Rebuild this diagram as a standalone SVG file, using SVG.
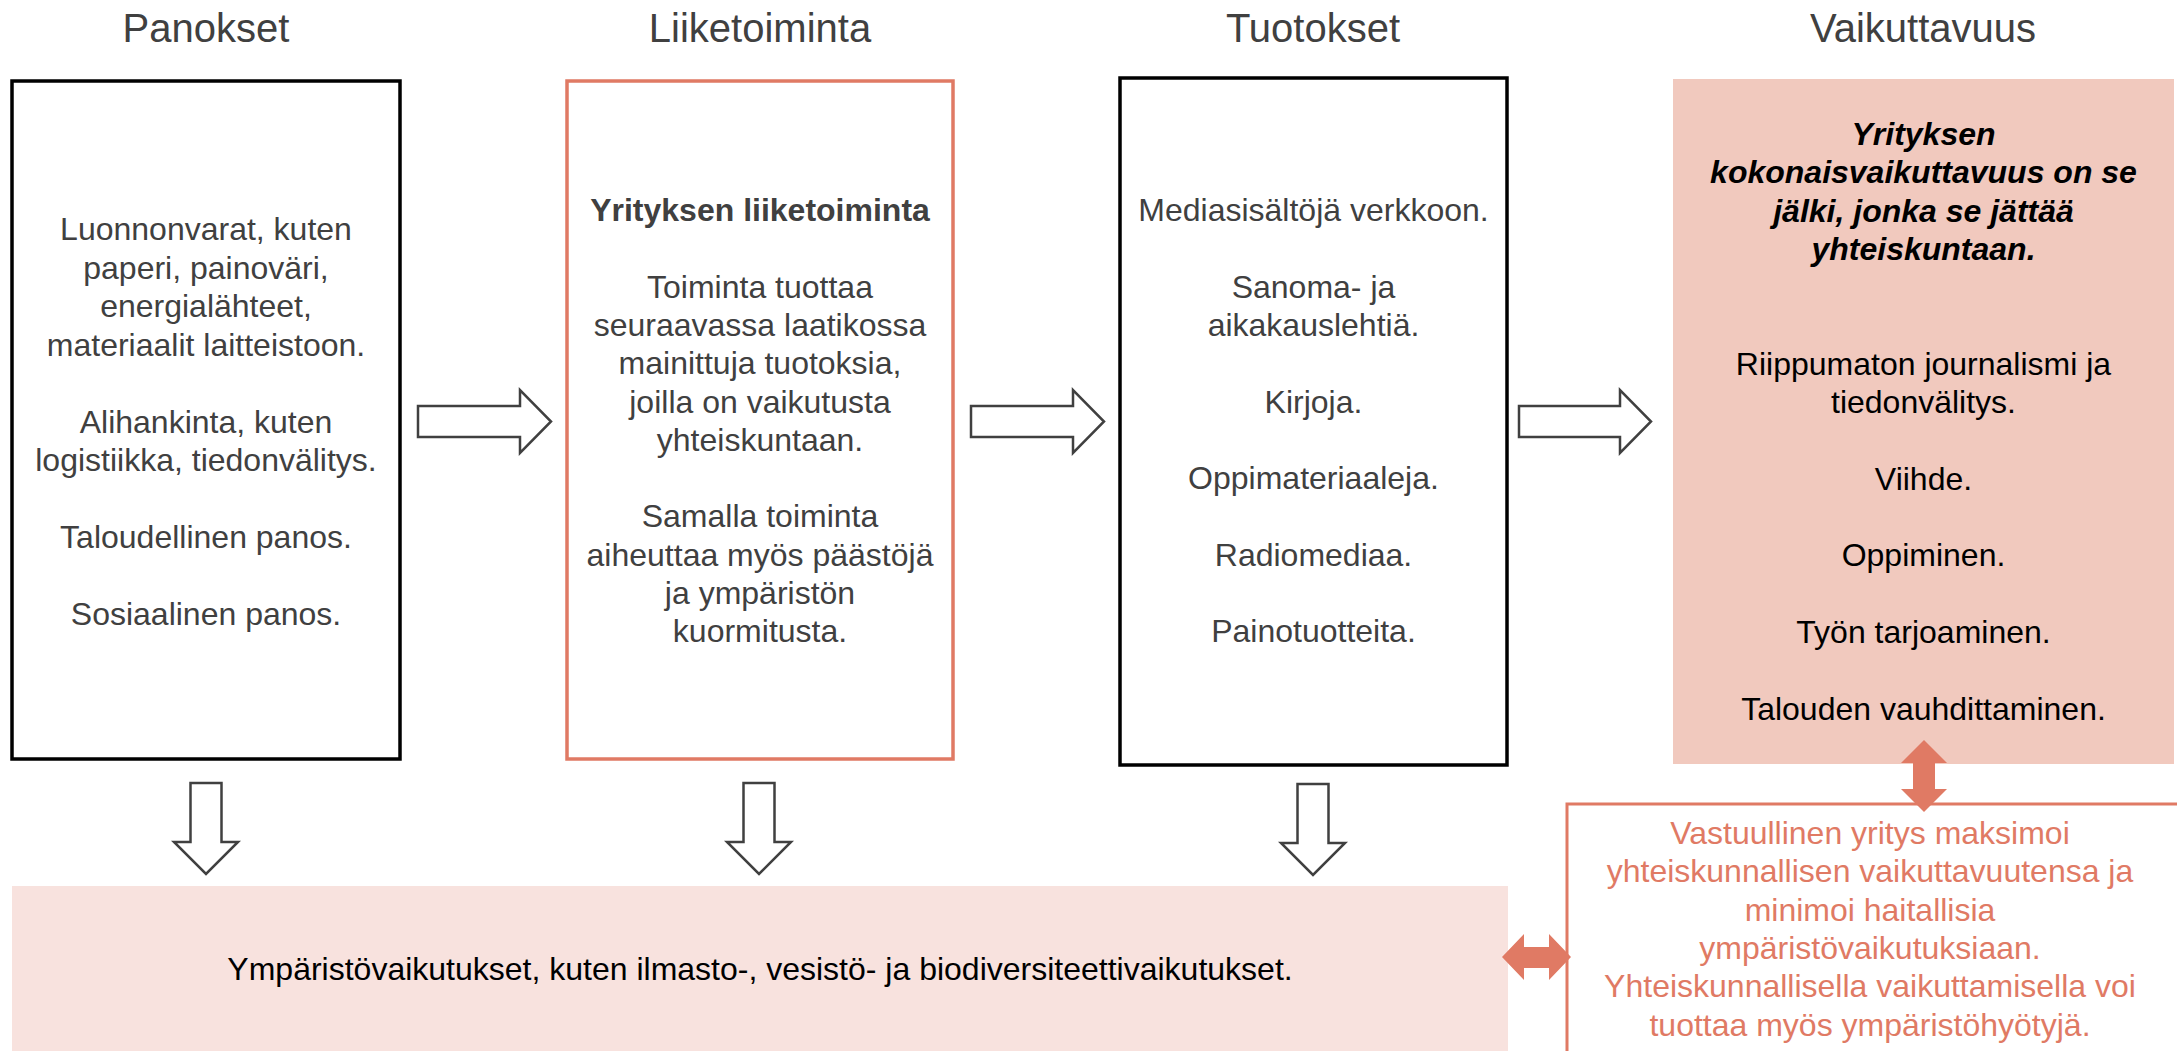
<svg xmlns="http://www.w3.org/2000/svg" width="2177" height="1051" viewBox="0 0 2177 1051">
<style>
text{font-family:"Liberation Sans",Arial,sans-serif;text-anchor:middle}
.title{font-size:40px;fill:#404040}
.t{font-size:32px;fill:#404040}
.tb{font-size:32px;fill:#000}
.to{font-size:32px;fill:#E07A64}
.bold{font-weight:bold}
.bi{font-weight:bold;font-style:italic}
.blk{fill:#fff;stroke:#000;stroke-width:3.5}
.org{fill:#fff;stroke:#E07A64;stroke-width:3.5}
.arr{fill:#fff;stroke:#404040;stroke-width:2.5;stroke-linejoin:miter}
.darr{fill:#E07A64;stroke:none}
</style>
<rect width="2177" height="1051" fill="#fff"/>

<g id="title-panokset"><text class="title" x="206" y="42">Panokset</text></g>
<g id="title-liiketoiminta"><text class="title" x="760" y="42">Liiketoiminta</text></g>
<g id="title-tuotokset"><text class="title" x="1313" y="42">Tuotokset</text></g>
<g id="title-vaikuttavuus"><text class="title" x="1923" y="42">Vaikuttavuus</text></g>

<g id="node-panokset">
<rect class="blk" x="12" y="81" width="388" height="678"/>
<text class="t" x="206" y="240">Luonnonvarat, kuten</text>
<text class="t" x="206" y="278.5">paperi, painoväri,</text>
<text class="t" x="206" y="317">energialähteet,</text>
<text class="t" x="206" y="355.5">materiaalit laitteistoon.</text>
<text class="t" x="206" y="432.5">Alihankinta, kuten</text>
<text class="t" x="206" y="471">logistiikka, tiedonvälitys.</text>
<text class="t" x="206" y="548">Taloudellinen panos.</text>
<text class="t" x="206" y="625">Sosiaalinen panos.</text>
</g>

<g id="node-liiketoiminta">
<rect class="org" x="567" y="81" width="386" height="678"/>
<text class="t bold" x="760" y="221">Yrityksen liiketoiminta</text>
<text class="t" x="760" y="297.6">Toiminta tuottaa</text>
<text class="t" x="760" y="335.9">seuraavassa laatikossa</text>
<text class="t" x="760" y="374.2">mainittuja tuotoksia,</text>
<text class="t" x="760" y="412.5">joilla on vaikutusta</text>
<text class="t" x="760" y="450.8">yhteiskuntaan.</text>
<text class="t" x="760" y="527.4">Samalla toiminta</text>
<text class="t" x="760" y="565.7">aiheuttaa myös päästöjä</text>
<text class="t" x="760" y="604">ja ympäristön</text>
<text class="t" x="760" y="642.3">kuormitusta.</text>
</g>

<g id="node-tuotokset">
<rect class="blk" x="1120" y="78" width="387" height="687"/>
<text class="t" x="1313.5" y="221">Mediasisältöjä verkkoon.</text>
<text class="t" x="1313.5" y="297.6">Sanoma- ja</text>
<text class="t" x="1313.5" y="335.9">aikakauslehtiä.</text>
<text class="t" x="1313.5" y="412.5">Kirjoja.</text>
<text class="t" x="1313.5" y="489.1">Oppimateriaaleja.</text>
<text class="t" x="1313.5" y="565.7">Radiomediaa.</text>
<text class="t" x="1313.5" y="642.3">Painotuotteita.</text>
</g>

<g id="node-vaikuttavuus">
<rect x="1673" y="79" width="501" height="685" fill="#F1C9BE"/>
<text class="tb bi" x="1923.5" y="145">Yrityksen</text>
<text class="tb bi" x="1923.5" y="183.3">kokonaisvaikuttavuus on se</text>
<text class="tb bi" x="1923.5" y="221.6">jälki, jonka se jättää</text>
<text class="tb bi" x="1923.5" y="259.9">yhteiskuntaan.</text>
<text class="tb" x="1923.5" y="374.8">Riippumaton journalismi ja</text>
<text class="tb" x="1923.5" y="413.1">tiedonvälitys.</text>
<text class="tb" x="1923.5" y="489.7">Viihde.</text>
<text class="tb" x="1923.5" y="566.3">Oppiminen.</text>
<text class="tb" x="1923.5" y="642.9">Työn tarjoaminen.</text>
<text class="tb" x="1923.5" y="719.5">Talouden vauhdittaminen.</text>
</g>

<g id="node-ymparisto">
<rect x="12" y="886" width="1496" height="170" fill="#F8E2DE"/>
<text class="tb" x="760" y="980">Ympäristövaikutukset, kuten ilmasto-, vesistö- ja biodiversiteettivaikutukset.</text>
</g>

<g id="node-vastuullinen">
<rect x="1567" y="804" width="1607" height="260" fill="#fff" stroke="#E07A64" stroke-width="3"/>
<text class="to" x="1870" y="844">Vastuullinen yritys maksimoi</text>
<text class="to" x="1870" y="882.3">yhteiskunnallisen vaikuttavuutensa ja</text>
<text class="to" x="1870" y="920.6">minimoi haitallisia</text>
<text class="to" x="1870" y="958.9">ympäristövaikutuksiaan.</text>
<text class="to" x="1870" y="997.2">Yhteiskunnallisella vaikuttamisella voi</text>
<text class="to" x="1870" y="1035.5">tuottaa myös ympäristöhyötyjä.</text>
</g>

<g id="connectors">
<polygon class="arr" points="418,406 520,406 520,390 551,421.5 520,453 520,437 418,437"/>
<polygon class="arr" points="971,406 1073,406 1073,390 1104,421.5 1073,453 1073,437 971,437"/>
<polygon class="arr" points="1519,406 1620,406 1620,390 1651,421.5 1620,453 1620,437 1519,437"/>
<polygon class="arr" points="190.5,783 221.5,783 221.5,842 238,842 206,874 174,842 190.5,842"/>
<polygon class="arr" points="743.5,783 774.5,783 774.5,842 791,842 759,874 727,842 743.5,842"/>
<polygon class="arr" points="1297.5,784 1328.5,784 1328.5,843 1345,843 1313,875 1281,843 1297.5,843"/>
<polygon class="darr" points="1924,740 1947,763 1935,763 1935,789 1947,789 1924,812 1901,789 1913,789 1913,763 1901,763"/>
<polygon class="darr" points="1502,957 1524,934 1524,947 1549,947 1549,934 1571,957 1549,980 1549,968 1524,968 1524,980"/>
</g>
</svg>
